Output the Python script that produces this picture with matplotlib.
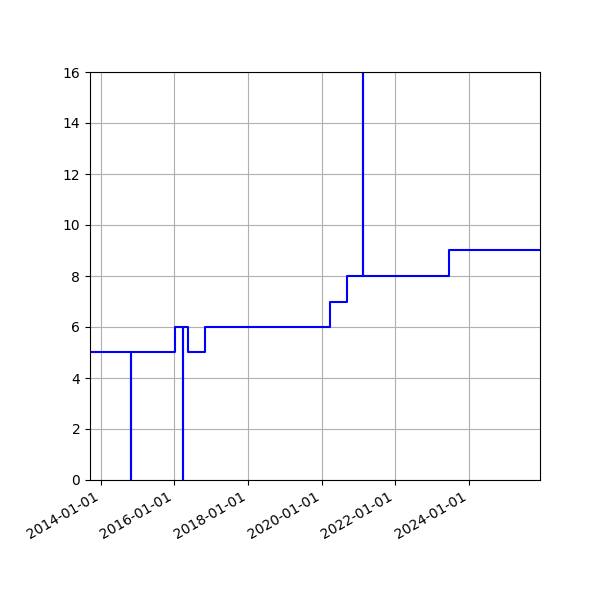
import matplotlib
matplotlib.use('Agg')

import matplotlib.pyplot as plt
import matplotlib.dates as mdates
import pandas as pd

# change points of the step series
dates = ["2013-09-17", "2014-10-26", "2014-10-27", "2016-01-06",
         "2016-03-27", "2016-03-28", "2016-05-12", "2016-11-05",
         "2020-03-24", "2020-09-12", "2021-02-18", "2021-02-19",
         "2023-06-20", "2025-12-07"]
values = [5, 0, 5, 6, 0, 6, 5, 6, 7, 8, 40, 8, 9, 9]

x = pd.to_datetime(dates)

fig, ax = plt.subplots(figsize=(6, 6), dpi=100)
ax.plot(x, values, color='b', linewidth=1.5, drawstyle='steps-post')

ax.set_ylim(0, 16)
ax.set_xlim(x[0], x[-1])
ax.xaxis.set_major_locator(mdates.YearLocator(2))
ax.xaxis.set_major_formatter(mdates.DateFormatter('%Y-%m-%d'))
ax.grid(True)

fig.autofmt_xdate()
plt.subplots_adjust(left=0.15, bottom=0.2, right=0.9, top=0.88)

fig.savefig('out.png', dpi=100)
